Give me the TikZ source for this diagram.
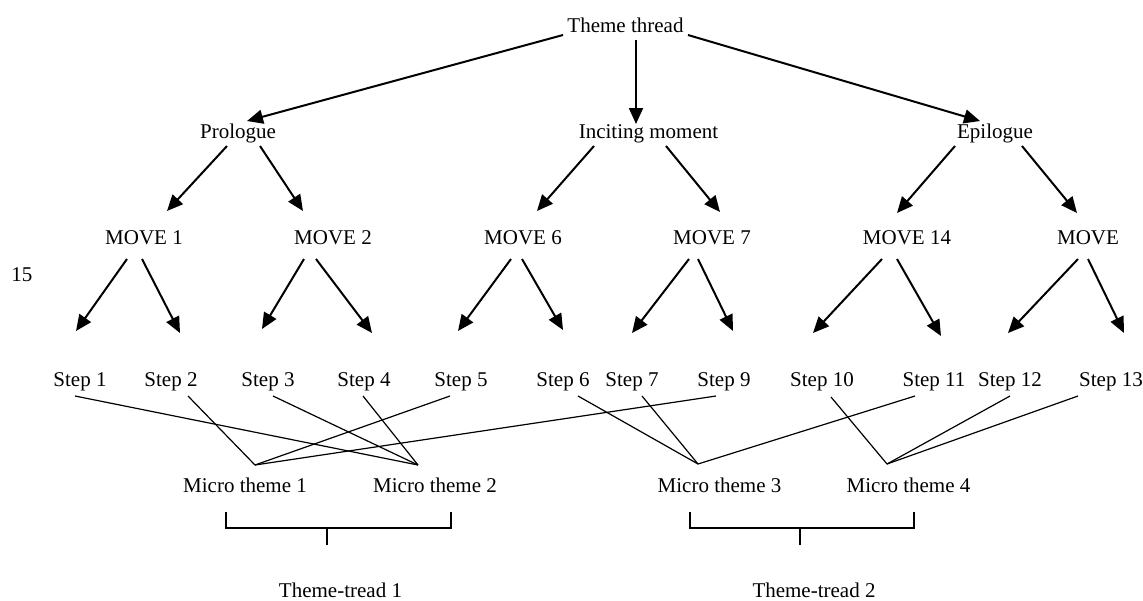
\documentclass[tikz,border=0pt]{standalone}
\usepackage{fontspec}
\setmainfont{Liberation Serif}
\usetikzlibrary{arrows.meta}
\begin{document}
\begin{tikzpicture}[x=1pt,y=-1pt,
  lbl/.style={anchor=base,inner sep=0pt,font=\fontsize{21}{25}\selectfont},
  arr/.style={line width=2pt,-{Triangle[length=16pt,width=14pt]}},
  link/.style={line width=1.2pt},
  brace/.style={line width=1.2pt}]
\useasboundingbox (0,0) rectangle (1143,600);

% labels
\node[lbl] (theme) at (625.5,32) {Theme thread};
\node[lbl] (prol) at (238,138) {Prologue};
\node[lbl] (inc) at (648.5,138) {Inciting moment};
\node[lbl] (epil) at (995,138) {Epilogue};
\node[lbl] (m1) at (144,244) {MOVE 1};
\node[lbl] (m2) at (333,244) {MOVE 2};
\node[lbl] (m6) at (523,244) {MOVE 6};
\node[lbl] (m7) at (712,244) {MOVE 7};
\node[lbl] (m14) at (907,244) {MOVE 14};
\node[lbl] (m15) at (1088,244) {MOVE};
\node[lbl] (n15) at (22,281) {15};
\node[lbl] (s1) at (80,386) {Step 1};
\node[lbl] (s2) at (171,386) {Step 2};
\node[lbl] (s3) at (268,386) {Step 3};
\node[lbl] (s4) at (364,386) {Step 4};
\node[lbl] (s5) at (461,386) {Step 5};
\node[lbl] (s6) at (563,386) {Step 6};
\node[lbl] (s7) at (632,386) {Step 7};
\node[lbl] (s9) at (724,386) {Step 9};
\node[lbl] (s10) at (822,386) {Step 10};
\node[lbl] (s11) at (934,386) {Step 11};
\node[lbl] (s12) at (1010,386) {Step 12};
\node[lbl] (s13) at (1111,386) {Step 13};
\node[lbl] (mt1) at (245,492) {Micro theme 1};
\node[lbl] (mt2) at (435,492) {Micro theme 2};
\node[lbl] (mt3) at (719.5,492) {Micro theme 3};
\node[lbl] (mt4) at (908.5,492) {Micro theme 4};
\node[lbl] (tt1) at (340.5,597) {Theme-tread 1};
\node[lbl] (tt2) at (814,597) {Theme-tread 2};

% arrow end points
\coordinate (a1s) at (563,35);  \coordinate (a1e) at (247,121);
\coordinate (a2s) at (636,40);  \coordinate (a2e) at (636,124);
\coordinate (a3s) at (688,35);  \coordinate (a3e) at (980,121);

\coordinate (b1s) at (227,146); \coordinate (b1e) at (167,211);
\coordinate (b2s) at (260,146); \coordinate (b2e) at (303,211);
\coordinate (b3s) at (594,146); \coordinate (b3e) at (537,211);
\coordinate (b4s) at (666,146); \coordinate (b4e) at (720,212);
\coordinate (b5s) at (955,146); \coordinate (b5e) at (897,213);
\coordinate (b6s) at (1022,146);\coordinate (b6e) at (1077,213);

\coordinate (c1s) at (127,259); \coordinate (c1e) at (76,331);
\coordinate (c2s) at (142,259); \coordinate (c2e) at (180,333);
\coordinate (c3s) at (304,259); \coordinate (c3e) at (262,329);
\coordinate (c4s) at (316,259); \coordinate (c4e) at (372,333);
\coordinate (c5s) at (511,259); \coordinate (c5e) at (458,331);
\coordinate (c6s) at (522,259); \coordinate (c6e) at (563,330);
\coordinate (c7s) at (689,259); \coordinate (c7e) at (632,333);
\coordinate (c8s) at (698,259); \coordinate (c8e) at (733,331);
\coordinate (c9s) at (882,259); \coordinate (c9e) at (813,333);
\coordinate (c10s) at (897,259);\coordinate (c10e) at (941,336);
\coordinate (c11s) at (1078,259);\coordinate (c11e) at (1008,333);
\coordinate (c12s) at (1088,259);\coordinate (c12e) at (1124,333);

% theme thread -> parts
\foreach \i in {1,2,3} \draw[arr] (a\i s) -- (a\i e);
% parts -> moves
\foreach \i in {1,...,6} \draw[arr] (b\i s) -- (b\i e);
% moves -> steps
\foreach \i in {1,...,12} \draw[arr] (c\i s) -- (c\i e);

% step feet and micro theme apexes
\coordinate (f1) at (75,396);   \coordinate (f2) at (188,396);
\coordinate (f3) at (273,396);  \coordinate (f4) at (363,396);
\coordinate (f5) at (450,396);  \coordinate (f6) at (578,396);
\coordinate (f7) at (642,396);  \coordinate (f9) at (716,396);
\coordinate (f10) at (831,397); \coordinate (f11) at (915,396);
\coordinate (f12) at (1010,396);\coordinate (f13) at (1078,396);
\coordinate (p1) at (255,465);  \coordinate (p2) at (418,465);
\coordinate (p3) at (698,464);  \coordinate (p4) at (887,464);

\draw[link] (f1) -- (p2);
\draw[link] (f2) -- (p1);
\draw[link] (f3) -- (p2);
\draw[link] (f4) -- (p2);
\draw[link] (f5) -- (p1);
\draw[link] (f9) -- (p1);
\draw[link] (f6) -- (p3);
\draw[link] (f7) -- (p3);
\draw[link] (f11) -- (p3);
\draw[link] (f10) -- (p4);
\draw[link] (f12) -- (p4);
\draw[link] (f13) -- (p4);

% brackets grouping micro themes
\draw[brace] (226,512) -- (226,528) -- (451,528) -- (451,512);
\draw[brace] (327,528) -- (327,545);
\draw[brace] (690,512) -- (690,528) -- (914,528) -- (914,512);
\draw[brace] (800,528) -- (800,545);
\end{tikzpicture}
\end{document}
